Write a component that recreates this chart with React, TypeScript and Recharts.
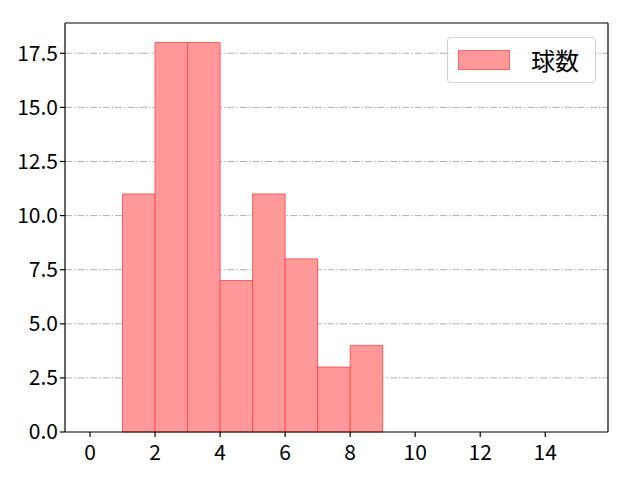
import React from 'react';
import {
  ComposedChart, XAxis, YAxis, CartesianGrid, ReferenceArea, Scatter, Legend
} from 'recharts';

// histogram bins (left edge, right edge) and counts
const binStarts = [1, 2, 3, 4, 5, 6, 7, 8];
const binEnds = [2, 3, 4, 5, 6, 7, 8, 9];
const counts = [11, 18, 18, 7, 11, 8, 3, 4];

const xTicks = [0, 2, 4, 6, 8, 10, 12, 14];
const yTicks = [0, 2.5, 5, 7.5, 10, 12.5, 15, 17.5];

const seriesName = '球数';

const data = binStarts.map((s, i) => ({ x: (s + binEnds[i]) / 2, y: counts[i] }));

const FONT = '"Noto Sans CJK JP", sans-serif';
const X_DOMAIN: [number, number] = [-0.77, 15.93];
const Y_DOMAIN: [number, number] = [0, 18.9];

const LegendBox = () => (
  <div style={{
    position: 'absolute', left: 447, top: 37, width: 149, height: 46,
    boxSizing: 'border-box', border: '1px solid #d0d0d0', borderRadius: 4,
    background: 'rgba(255,255,255,0.8)', display: 'flex', alignItems: 'center',
  }}>
    <div style={{
      marginLeft: 10, width: 52, height: 20, background: '#ff9999',
      border: '1px solid #ff6666', boxSizing: 'border-box',
    }} />
    <span style={{
      marginLeft: 21, fontSize: 24, lineHeight: '24px', fontFamily: FONT, color: '#000',
    }}>{seriesName}</span>
  </div>
);

export default function App() {
  return (
    <div style={{ position: 'absolute', left: 0, top: 0, width: 640, height: 480, background: '#fff' }}>
      <ComposedChart width={640} height={480} data={data}
        margin={{ top: 22, right: 31, bottom: 8, left: 4 }}>
        <XAxis xAxisId="b" dataKey="x" type="number" domain={X_DOMAIN} ticks={xTicks}
          allowDataOverflow height={40} tickSize={5} tickMargin={8}
          axisLine={{ stroke: '#000', strokeWidth: 1.2 }} tickLine={{ stroke: '#000', strokeWidth: 1.2 }}
          tick={{ fill: '#000', fontSize: 21, fontFamily: FONT }} />
        <XAxis xAxisId="t" orientation="top" type="number" domain={X_DOMAIN}
          allowDataOverflow height={1} tick={false} tickLine={false}
          axisLine={{ stroke: '#000', strokeWidth: 1.2 }} />
        <YAxis yAxisId="l" type="number" domain={Y_DOMAIN} ticks={yTicks}
          allowDataOverflow width={61} tickSize={5}
          tickFormatter={(v: number) => v.toFixed(1)}
          axisLine={{ stroke: '#000', strokeWidth: 1.2 }} tickLine={{ stroke: '#000', strokeWidth: 1.2 }}
          tick={{ fill: '#000', fontSize: 21, fontFamily: FONT }} />
        <YAxis yAxisId="r" orientation="right" type="number" domain={Y_DOMAIN}
          allowDataOverflow width={1} tick={false} tickLine={false}
          axisLine={{ stroke: '#000', strokeWidth: 1.2 }} />
        {binStarts.map((s, i) => (
          <ReferenceArea key={i} xAxisId="b" yAxisId="l" x1={s} x2={binEnds[i]} y1={0} y2={counts[i]}
            fill="#ff9999" fillOpacity={1} stroke="#ff4040" strokeOpacity={0.8} strokeWidth={1} />
        ))}
        <CartesianGrid xAxisId="b" yAxisId="l" vertical={false} horizontalValues={yTicks.slice(1)}
          stroke="#b0b0b0" strokeWidth={1} strokeDasharray="7 2 1.5 2" />
        <Scatter xAxisId="b" yAxisId="l" dataKey="y" name={seriesName} isAnimationActive={false}
          shape={() => <g />} legendType="none" />
        <Legend content={() => null} />
      </ComposedChart>
      <LegendBox />
    </div>
  );
}
